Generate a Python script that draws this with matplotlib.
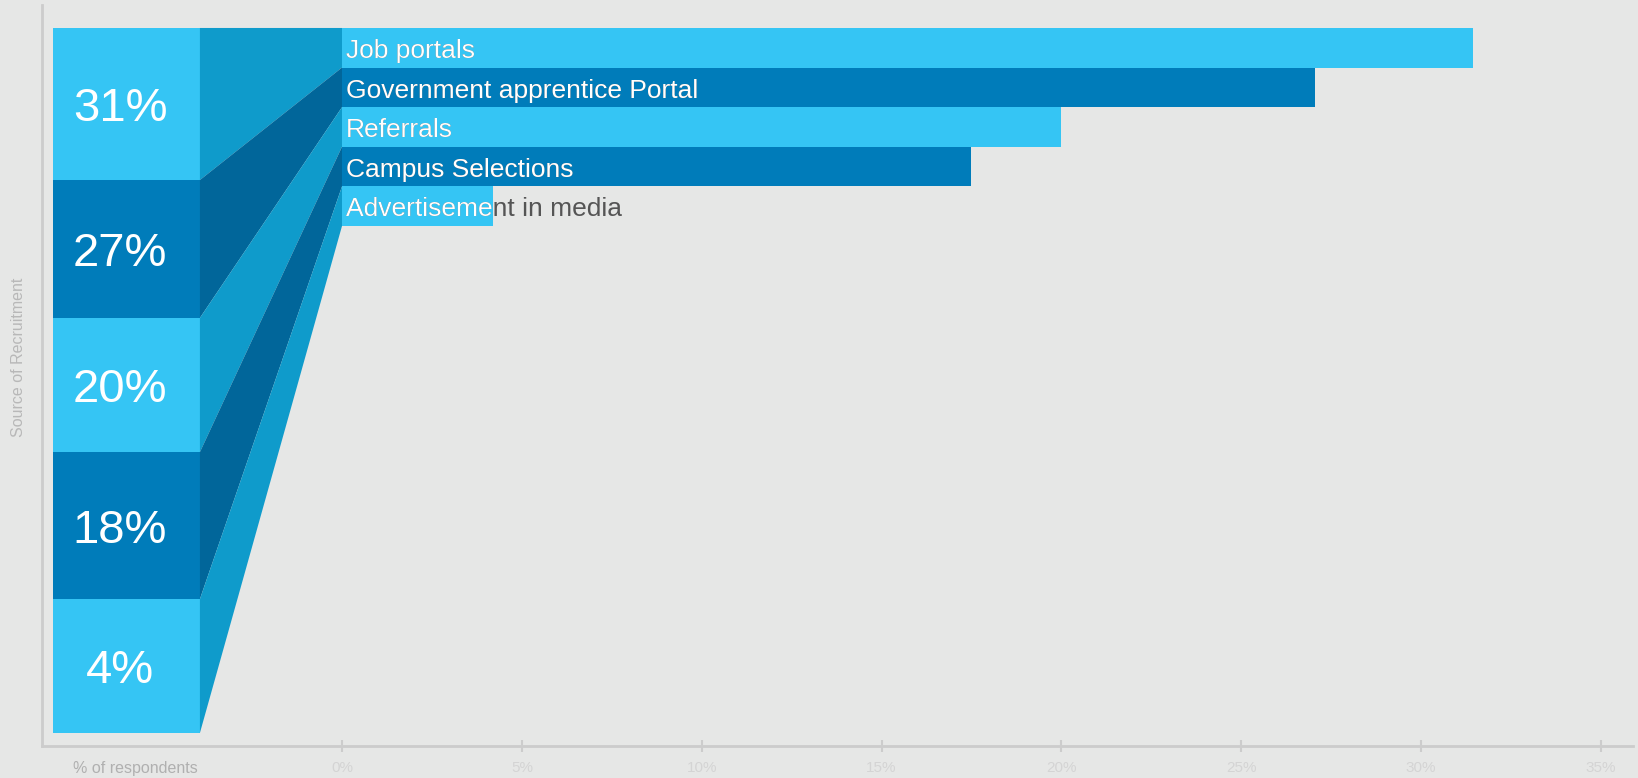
import matplotlib
matplotlib.use("Agg")
import matplotlib.pyplot as plt
from matplotlib.patches import Polygon

plt.rcParams['font.family'] = ['Liberation Sans', 'DejaVu Sans']

# survey results, % of respondents per recruitment source
sources = ["Job portals", "Government apprentice Portal", "Referrals",
           "Campus Selections", "Advertisement in media"]
shares = [31.45, 27.05, 20.0, 17.5, 4.2]
xticks = [0, 5, 10, 15, 20, 25, 30, 35]

BG = "#e6e7e6"
LIGHT = "#35c5f4"
DARK = "#007cba"
LINK_MID = "#0f9bcb"
LINK_DARK = "#01669a"
AXIS = "#cccccc"

# left column of percentage blocks (y edges in bar units) and their x span
BLOCK_EDGES = [-0.5, 3.34, 6.82, 10.21, 13.92, 17.30]
BLOCK_X = (-8.03, -3.95)

fig = plt.figure(figsize=(16.38, 7.78), dpi=100, facecolor=BG)
ax = fig.add_axes([42 / 1638, 32 / 778, 1591 / 1638, 741 / 778])
ax.set_facecolor(BG)

ax.set_xlim(-8.34, 35.89)
ax.set_ylim(17.63, -1.08)

fills = [LIGHT, DARK, LIGHT, DARK, LIGHT]
links = [LINK_MID, LINK_DARK, LINK_MID, LINK_DARK, LINK_MID]

bars = ax.barh(range(len(shares)), shares, height=1.0, left=0,
               color=fills, edgecolor="none", zorder=3)

for i, (name, val) in enumerate(zip(sources, shares)):
    top, bot = BLOCK_EDGES[i], BLOCK_EDGES[i + 1]
    # block with rounded share
    ax.fill_between(BLOCK_X, top, bot, color=fills[i], lw=0, zorder=2)
    ax.text(-6.17, (top + bot) / 2 + 0.13, f"{val:.0f}%", color="white",
            fontsize=34, ha="center", va="center", zorder=4)
    # slanted link from block to bar
    link = Polygon([(BLOCK_X[1], top), (0, i - 0.5), (0, i + 0.5), (BLOCK_X[1], bot)],
                   closed=True, facecolor=links[i], edgecolor="none", zorder=2)
    ax.add_patch(link)
    # bar label: grey outside the bar, white where it overlaps
    ax.text(0.1, i + 0.08, name, color="#555555", fontsize=19, va="center", zorder=4)
    inner = ax.text(0.1, i + 0.08, name, color="white", fontsize=19, va="center",
                    zorder=5, clip_on=True)
    inner.set_clip_path(bars[i])

for side in ["top", "right"]:
    ax.spines[side].set_visible(False)
for side in ["left", "bottom"]:
    ax.spines[side].set_color(AXIS)
    ax.spines[side].set_linewidth(2)

ax.set_yticks([])
ax.set_xticks(xticks)
ax.set_xticklabels([f"{t}%" for t in xticks])
ax.tick_params(axis="x", direction="inout", length=9, width=1.5, color=AXIS,
               labelcolor="#d4d4d4", labelsize=11, pad=6)

fig.text(135 / 1638, 1 - 768 / 778, "% of respondents", color="#b0b0b0",
         fontsize=11.5, ha="center", va="center")
fig.text(19 / 1638, 1 - 357 / 778, "Source of Recruitment", color="#b8b8b8",
         fontsize=11.5, ha="center", va="center", rotation=90)

fig.savefig("out.png", dpi=100, facecolor=BG)
